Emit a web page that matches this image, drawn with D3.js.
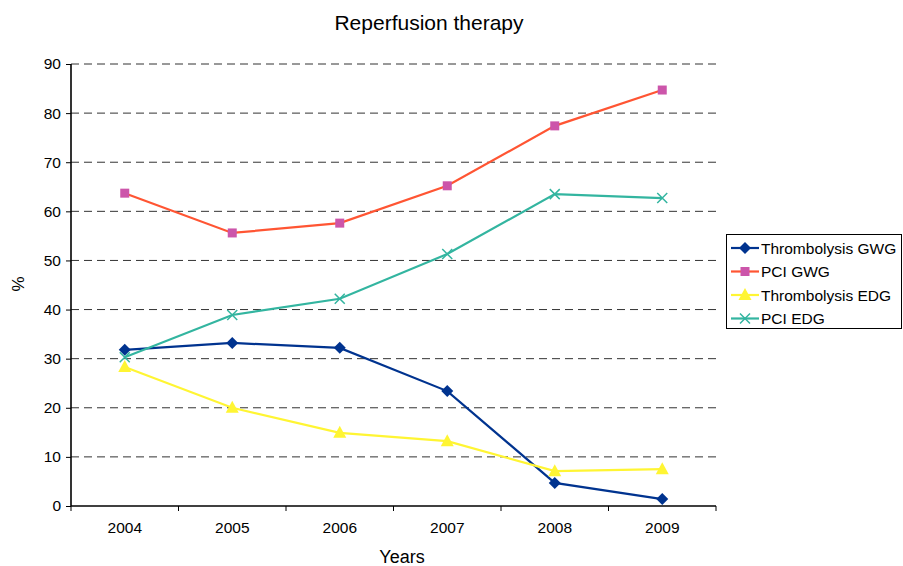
<!DOCTYPE html>
<html><head><meta charset="utf-8">
<script src="https://cdn.jsdelivr.net/npm/d3@7"></script>
<style>body{margin:0;background:#fff;}svg{display:block;font-family:"Liberation Sans",Arial,sans-serif;}</style>
</head><body><svg id="c" width="903" height="566"></svg>
<script>
const years = ["2004","2005","2006","2007","2008","2009"];
const thrombolysisGWG = [31.8, 33.2, 32.2, 23.4, 4.7, 1.4];
const pciGWG = [63.7, 55.6, 57.6, 65.2, 77.4, 84.7];
const thrombolysisEDG = [28.3, 20.0, 14.9, 13.2, 7.1, 7.5];
const pciEDG = [30.3, 38.9, 42.2, 51.3, 63.5, 62.7];
const yTicks = [0,10,20,30,40,50,60,70,80,90];
const seriesNames = ["Thrombolysis GWG","PCI GWG","Thrombolysis EDG","PCI EDG"];

const series = [
  {name: seriesNames[0], values: thrombolysisGWG, line: "#00338F", fill: "#00338F", sym: "diamond"},
  {name: seriesNames[1], values: pciGWG, line: "#FF5533", fill: "#CC55AA", sym: "square"},
  {name: seriesNames[2], values: thrombolysisEDG, line: "#FFF533", fill: "#FFF533", sym: "triangle"},
  {name: seriesNames[3], values: pciEDG, line: "#33B5A0", fill: "#33B5A0", sym: "x"}
];

const svg = d3.select("#c");
const L = 71, R = 716, T = 64, B = 506;
const x = d3.scaleBand().domain(years).range([L, R]);
const y = d3.scaleLinear().domain([0, 90]).range([B, T]);

// gridlines
svg.append("g").selectAll("line").data(yTicks.filter(d => d > 0)).join("line")
  .attr("x1", L).attr("x2", R).attr("y1", d => y(d)).attr("y2", d => y(d))
  .attr("stroke", "#333").attr("stroke-width", 1).attr("stroke-dasharray", "8,5");

// y axis
const ya = svg.append("g").attr("transform", `translate(${L},0)`)
  .call(d3.axisLeft(y).tickValues(yTicks).tickSize(5).tickPadding(5));
ya.attr("font-size", 15.5).attr("font-family", "Liberation Sans, Arial, sans-serif");
ya.select(".domain").attr("stroke", "#000").attr("stroke-width", 1.6).attr("d", `M0,${B}V${T}`);
ya.selectAll("text").attr("fill", "#000");
ya.selectAll(".tick line").attr("stroke", "#000");

// x axis
const xa = svg.append("g").attr("transform", `translate(0,${B})`)
  .call(d3.axisBottom(x).tickSize(0).tickPadding(16));
xa.attr("font-size", 15.5).attr("font-family", "Liberation Sans, Arial, sans-serif");
xa.select(".domain").attr("stroke", "#000").attr("stroke-width", 1.6).attr("d", `M${L},0H${R}`);
xa.selectAll("text").attr("fill", "#000");
const bounds = years.map(d => x(d)).concat([R]);
xa.append("g").selectAll("line").data(bounds).join("line")
  .attr("x1", d => d).attr("x2", d => d).attr("y1", 0).attr("y2", 5).attr("stroke", "#000");

// lines
const line = d3.line().x((d, i) => x(years[i]) + x.bandwidth() / 2).y(d => y(d));
function marker(g, s, cx, cy) {
  if (s.sym === "diamond") {
    const r = 6;
    g.append("path").attr("d", `M${cx},${cy - r}L${cx + r},${cy}L${cx},${cy + r}L${cx - r},${cy}Z`).attr("fill", s.fill);
  } else if (s.sym === "square") {
    g.append("rect").attr("x", cx - 4.5).attr("y", cy - 4.5).attr("width", 9).attr("height", 9).attr("fill", s.fill);
  } else if (s.sym === "triangle") {
    g.append("path").attr("d", `M${cx},${cy - 7}L${cx + 6.5},${cy + 5}L${cx - 6.5},${cy + 5}Z`).attr("fill", s.fill);
  } else {
    const r = 5;
    g.append("path").attr("d", `M${cx - r},${cy - r}L${cx + r},${cy + r}M${cx - r},${cy + r}L${cx + r},${cy - r}`).attr("stroke", s.fill).attr("stroke-width", 1.5);
  }
}
series.forEach(s => {
  const g = svg.append("g");
  g.append("path").datum(s.values).attr("d", line).attr("fill", "none").attr("stroke", s.line).attr("stroke-width", 2.2);
  s.values.forEach((v, i) => marker(g, s, x(years[i]) + x.bandwidth() / 2, y(v)));
});

// titles
svg.append("text").attr("x", 429).attr("y", 30).attr("text-anchor", "middle").attr("font-size", 21).text("Reperfusion therapy");
svg.append("text").attr("x", 402).attr("y", 563).attr("text-anchor", "middle").attr("font-size", 18).text("Years");
svg.append("text").attr("transform", "translate(24,284) rotate(-90)").attr("text-anchor", "middle").attr("font-size", 17).text("%");

// legend
const lg = svg.append("g");
lg.append("rect").attr("x", 726.5).attr("y", 234.5).attr("width", 175).attr("height", 94).attr("fill", "#fff").attr("stroke", "#000").attr("stroke-width", 1);
series.forEach((s, i) => {
  const cy = 248 + i * 23.5;
  lg.append("line").attr("x1", 731).attr("x2", 759).attr("y1", cy).attr("y2", cy).attr("stroke", s.line).attr("stroke-width", 2.2);
  marker(lg, s, 745, cy);
  lg.append("text").attr("x", 761).attr("y", cy + 5.5).attr("font-size", 15.5).text(s.name);
});
</script></body></html>
